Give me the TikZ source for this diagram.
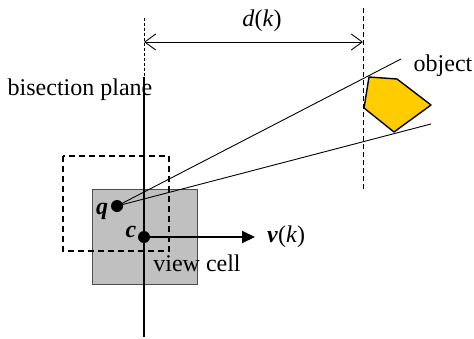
\documentclass[tikz,border=0pt]{standalone}
\usepackage{fontspec}
\setmainfont{Liberation Serif}
\usetikzlibrary{arrows.meta, positioning}
\definecolor{cellgray}{HTML}{C0C0C0}
\definecolor{objyellow}{HTML}{FFCC00}

\begin{document}
\begin{tikzpicture}[
    x=1pt, y=-1pt,
    lbl/.style={font=\fontsize{24}{28}\selectfont, inner sep=0pt},
    guide/.style={dashed, line width=0.8pt, dash pattern=on 5pt off 3pt},
    ray/.style={line width=0.9pt},
    dot/.style={circle, fill=black, minimum size=12pt, inner sep=0pt},
    barb/.style={{Straight Barb[length=11pt, width=16pt]}-{Straight Barb[length=11pt, width=16pt]}, line width=0.9pt},
    vec/.style={-{Triangle[length=13pt, width=12pt]}, line width=2pt},
]
\useasboundingbox (0,0) rectangle (474,338);

% view cell and shifted cell
\draw[fill=cellgray, draw=black!70, line width=1pt] (92,189) rectangle (197,284);
\draw[dashed, line width=1.3pt, dash pattern=on 6pt off 4pt] (63,156) rectangle (169,251);

% guides
\coordinate (gl top) at (144,18);
\coordinate (gl bot) at (144,77);
\coordinate (gr top) at (363,8);
\coordinate (gr bot) at (363,190);
\draw[guide, dash pattern=on 3pt off 2pt] (gl top) -- (gl bot);
\draw[guide] (gr top) -- (gr bot);

% bisection plane
\coordinate (bp top) at (144,77);
\coordinate (bp bot) at (144,337);
\draw[line width=2pt] (bp top) -- (bp bot);

% distance d(k)
\coordinate (dl) at (144,42);
\coordinate (dr) at (363,42);
\draw[barb] (dl) -- (dr);
\node[lbl] (dk) at (262,21) {\textit{d}(\textit{k})};

% object
\draw[fill=objyellow, line width=1.4pt, line join=round]
    (369,77) -- (397,79) -- (431,105) -- (394,132) -- (364,108) -- cycle;
\node[lbl] (obj) at (443,66) {object};

% rays from q
\node[dot] (q) at (117,206) {};
\coordinate (ray1) at (401,59);
\coordinate (ray2) at (431,124);
\draw[ray] (q.center) -- (ray1);
\draw[ray] (q.center) -- (ray2);

% center and view direction
\node[dot] (c) at (144,237) {};
\coordinate (vend) at (255,237);
\draw[vec] (c.center) -- (vend);

% labels
\node[lbl] (qlbl) at (102,211) {\textbf{\textit{q}}};
\node[lbl] (clbl) at (131,232) {\textbf{\textit{c}}};
\node[lbl, right=12pt of vend] (vk) {\textbf{\textit{v}}(\textit{k})};
\node[lbl] (bis) at (80,90) {bisection plane};
\node[lbl] (cell) at (197,263) {view cell};

\end{tikzpicture}
\end{document}
